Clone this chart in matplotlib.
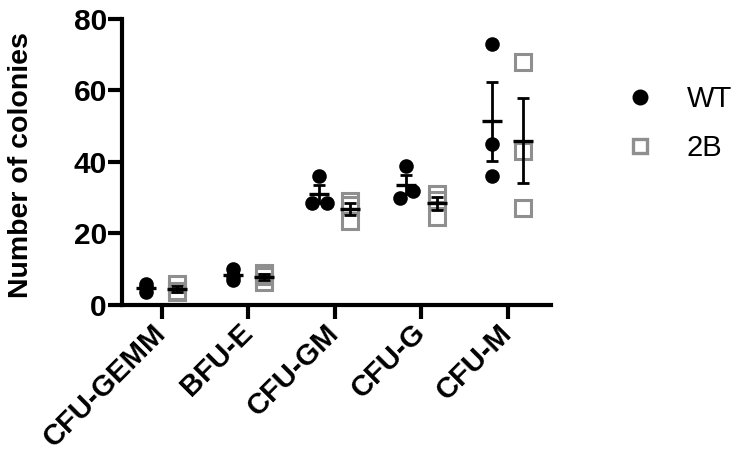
import matplotlib
matplotlib.use("Agg")
import matplotlib.pyplot as plt
import numpy as np

categories = ["CFU-GEMM", "BFU-E", "CFU-GM", "CFU-G", "CFU-M"]
wt_values = [
    [6.0, 5.0, 3.5],
    [10.0, 8.0, 7.0],
    [36.0, 28.5, 28.5],
    [39.0, 30.0, 32.0],
    [73.0, 45.0, 36.0],
]
b2_values = [
    [6.0, 4.0, 3.5],
    [9.0, 8.0, 6.5],
    [29.0, 28.0, 23.5],
    [31.0, 29.5, 24.7],
    [68.0, 43.0, 27.0],
]

# horizontal scatter of overlapping points (data units)
wt_jitter = [[0, 0, 0], [0, 0, 0], [0, -0.085, 0.085], [0, -0.07, 0.08], [0, 0, 0]]
b2_jitter = [[0, 0, 0]] * 5

plt.rcParams["font.family"] = ["Liberation Sans", "DejaVu Sans"]

fig = plt.figure(figsize=(7.36, 4.54), dpi=100)
ax = fig.add_axes([0.1658, 0.3282, 0.5829, 0.63])

x = np.arange(len(categories))
off = 0.18
gray = "#8f8f8f"

for i in range(len(categories)):
    for vals, jit, dx, kind in [(wt_values[i], wt_jitter[i], -off, "wt"),
                                (b2_values[i], b2_jitter[i], off, "b2")]:
        xs = x[i] + dx + np.array(jit)
        if kind == "wt":
            ax.plot(xs, vals, "o", color="black", ms=10.5, mew=0, zorder=3, clip_on=False)
        else:
            ax.plot(xs, vals, "s", mfc="none", mec=gray, ms=11, mew=2.2, zorder=2, clip_on=False)
        v = np.array(vals)
        m = v.mean()
        sem = v.std(ddof=1) / np.sqrt(len(v))
        c = x[i] + dx
        ax.plot([c - 0.115, c + 0.115], [m, m], color="black", lw=2.4, zorder=4,
                solid_capstyle="butt")
        ax.errorbar(c, m, yerr=sem, fmt="none", ecolor="black", elinewidth=2.0,
                    capsize=4.5, capthick=2.0, zorder=4)

# legend handles
ax.plot([], [], "o", color="black", ms=11.5, mew=0, label="WT")
ax.plot([], [], "s", mfc="none", mec=gray, ms=10.5, mew=2.4, label="2B")
ax.legend(loc="upper left", bbox_to_anchor=(1.14, 0.82), frameon=False, fontsize=21,
          handletextpad=1.1, labelspacing=0.72, borderpad=0, handlelength=1.0)

ax.set_xlim(-0.46, 4.5)
ax.set_ylim(0, 80)
ax.set_yticks([0, 20, 40, 60, 80])
ax.set_xticks(x)
ax.set_xticklabels(categories, rotation=45, ha="right", va="center",
                   rotation_mode="anchor", fontweight="bold", fontsize=21)
for lab in ax.get_yticklabels():
    lab.set_fontweight("bold")
    lab.set_fontsize(21.5)
ax.set_ylabel("Number of colonies", fontweight="bold", fontsize=20.5)
ax.yaxis.set_label_coords(-0.205, 0.49)

for side in ["top", "right"]:
    ax.spines[side].set_visible(False)
for side in ["left", "bottom"]:
    ax.spines[side].set_linewidth(3)
ax.tick_params(axis="both", width=3, length=10, direction="out", colors="black")
ax.tick_params(axis="y", pad=1)
ax.tick_params(axis="x", pad=7)

fig.savefig("out.png", dpi=100)
